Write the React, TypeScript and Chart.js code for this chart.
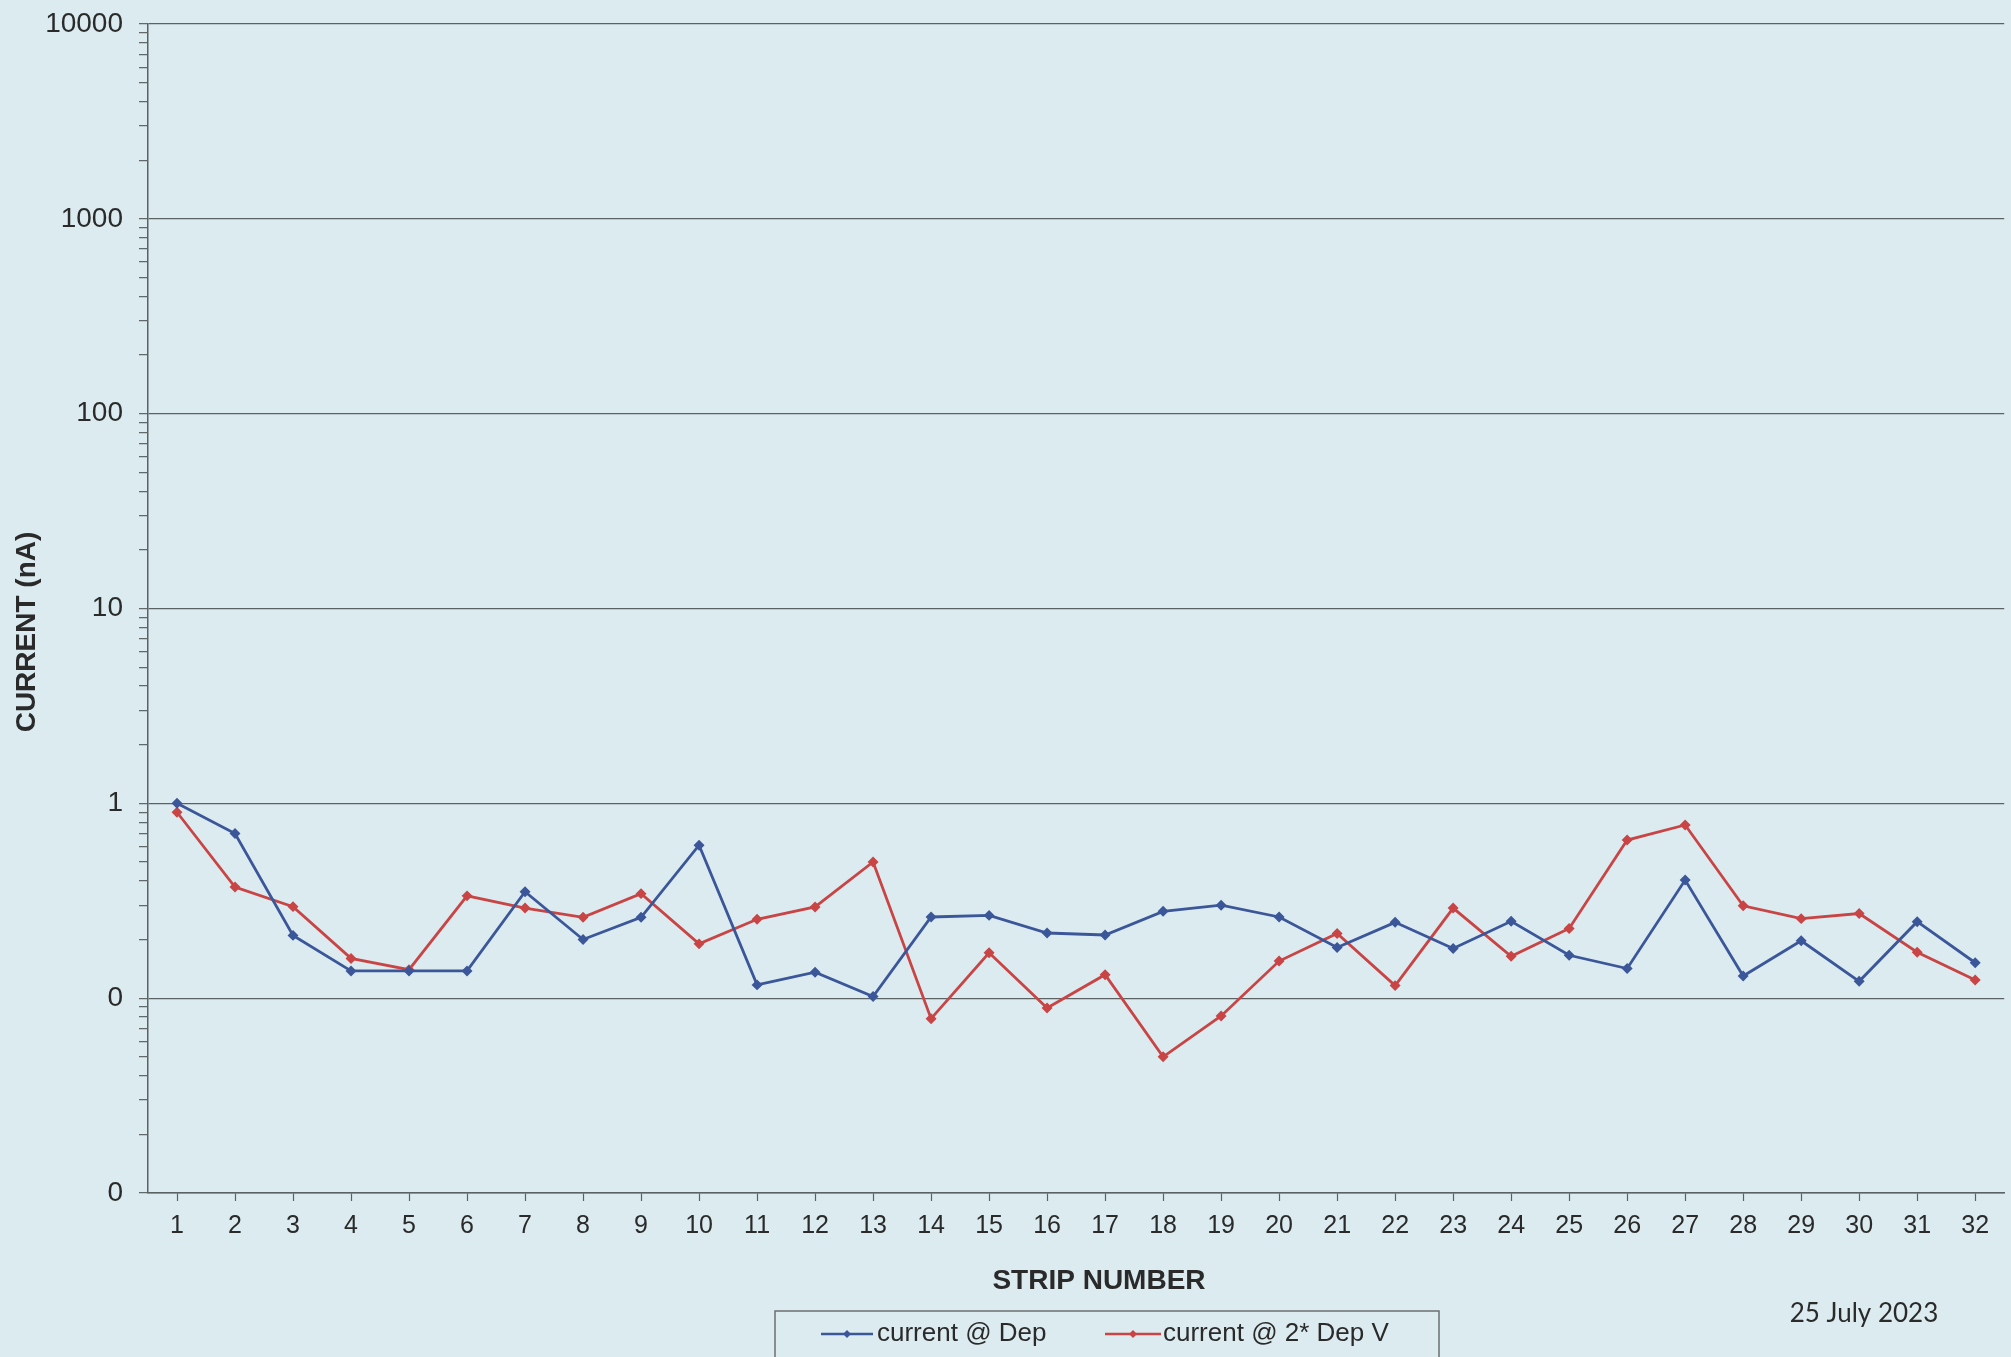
import React, { useEffect, useRef } from "react";
import { Chart, registerables } from "chart.js";

Chart.register(...registerables);

// ---- Data ----
const strips = ["1","2","3","4","5","6","7","8","9","10","11","12","13","14","15","16","17","18","19","20","21","22","23","24","25","26","27","28","29","30","31","32"];

const currentAtDep = [
  1.0, 0.70, 0.21, 0.138, 0.138, 0.138, 0.352, 0.20, 0.26, 0.61,
  0.117, 0.136, 0.102, 0.261, 0.266, 0.216, 0.211, 0.279, 0.30, 0.261,
  0.182, 0.245, 0.18, 0.248, 0.166, 0.142, 0.404, 0.130, 0.197, 0.122,
  0.247, 0.152,
];

const currentAt2xDep = [
  0.90, 0.372, 0.295, 0.16, 0.14, 0.335, 0.29, 0.26, 0.344, 0.19,
  0.254, 0.294, 0.50, 0.0785, 0.171, 0.089, 0.132, 0.050, 0.081, 0.155,
  0.215, 0.116, 0.29, 0.164, 0.228, 0.648, 0.774, 0.298, 0.256, 0.272,
  0.172, 0.124,
];

const seriesLabels = ["current @ Dep", "current @ 2* Dep V"];
const seriesColors = ["#3b5799", "#c94545"];

const yMajorTicks = [0.01, 0.1, 1, 10, 100, 1000, 10000];
const yTickLabels = ["0", "0", "1", "10", "100", "1000", "10000"];
const yMinorMultipliers = [2, 3, 4, 5, 6, 7, 8, 9];

const yTitle = "CURRENT (nA)";
const xTitle = "STRIP NUMBER";
const dateText = "25 July 2023";

// ---- Styling ----
const W = 2011;
const H = 1357;
const PAPER = "#dbebf0";
const GRID = "#5b6264";
const TEXT = "#2a2a2a";
const FONT = "'Liberation Sans', Arial, sans-serif";

const isMajor = (v: number) => yMajorTicks.some((m) => Math.abs(m - v) / m < 1e-6);

const decorPlugin = {
  id: "decor",
  beforeDraw(chart: any) {
    const ctx = chart.ctx;
    ctx.save();
    ctx.fillStyle = PAPER;
    ctx.fillRect(0, 0, chart.width, chart.height);
    ctx.restore();
  },
  afterDraw(chart: any) {
    const ctx = chart.ctx;
    ctx.save();
    ctx.fillStyle = TEXT;
    // y title
    ctx.font = `bold 28px ${FONT}`;
    ctx.textAlign = "center";
    ctx.textBaseline = "middle";
    ctx.save();
    ctx.translate(27, 632);
    ctx.rotate(-Math.PI / 2);
    ctx.fillText(yTitle, 0, 0);
    ctx.restore();
    // x title
    ctx.fillText(xTitle, 1099, 1281);
    // date
    ctx.font = `26px Lato, 'Open Sans', sans-serif`;
    ctx.fillText(dateText, 1864, 1314);

    // legend box
    ctx.strokeStyle = "#6d6f70";
    ctx.lineWidth = 1.5;
    ctx.strokeRect(775, 1311, 664, 60);
    const items = [
      { x0: 821, x1: 873, tx: 877 },
      { x0: 1105, x1: 1161, tx: 1163 },
    ];
    const ly = 1334;
    chart.data.datasets.forEach((ds: any, i: number) => {
      const it = items[i];
      ctx.strokeStyle = ds.borderColor;
      ctx.lineWidth = 2.5;
      ctx.beginPath();
      ctx.moveTo(it.x0, ly);
      ctx.lineTo(it.x1, ly);
      ctx.stroke();
      const cx = (it.x0 + it.x1) / 2;
      ctx.fillStyle = ds.borderColor;
      ctx.beginPath();
      ctx.moveTo(cx, ly - 4);
      ctx.lineTo(cx + 4, ly);
      ctx.lineTo(cx, ly + 4);
      ctx.lineTo(cx - 4, ly);
      ctx.closePath();
      ctx.fill();
      ctx.fillStyle = TEXT;
      ctx.font = `26px ${FONT}`;
      ctx.textAlign = "left";
      ctx.textBaseline = "middle";
      ctx.fillText(ds.label, it.tx, ly);
    });
    ctx.restore();
  },
};

export default function App() {
  const ref = useRef<HTMLCanvasElement | null>(null);

  useEffect(() => {
    document.body.style.margin = "0";
    document.body.style.overflow = "hidden";
    document.body.style.background = PAPER;
    const canvas = ref.current;
    if (!canvas) return;
    Chart.defaults.font.family = FONT;

    const chart = new Chart(canvas, {
      type: "line",
      data: {
        labels: strips,
        datasets: [
          {
            label: seriesLabels[0],
            data: currentAtDep,
            borderColor: seriesColors[0],
            backgroundColor: seriesColors[0],
            pointBackgroundColor: seriesColors[0],
            pointBorderColor: seriesColors[0],
            borderWidth: 2.8,
            pointStyle: "rectRot",
            pointRadius: 3.5,
            tension: 0,
          },
          {
            label: seriesLabels[1],
            data: currentAt2xDep,
            borderColor: seriesColors[1],
            backgroundColor: seriesColors[1],
            pointBackgroundColor: seriesColors[1],
            pointBorderColor: seriesColors[1],
            borderWidth: 2.8,
            pointStyle: "rectRot",
            pointRadius: 3.5,
            tension: 0,
          },
        ],
      },
      options: {
        responsive: false,
        animation: false,
        devicePixelRatio: 1,
        layout: { padding: { left: 0, right: 1, top: 24, bottom: 0 } },
        plugins: {
          legend: { display: false },
          tooltip: { enabled: false },
          title: { display: false },
        },
        scales: {
          x: {
            type: "category",
            offset: true,
            grid: {
              drawOnChartArea: false,
              drawTicks: true,
              tickLength: 8,
              tickColor: GRID,
              tickWidth: 1.2,
              offset: false,
            },
            border: { display: true, color: GRID, width: 1.5 },
            ticks: {
              color: TEXT,
              font: { size: 25, family: FONT },
              padding: 10,
              autoSkip: false,
              maxRotation: 0,
            },
            afterFit: (scale: any) => {
              scale.height = H - 1193;
              scale.paddingLeft = 0;
              scale.paddingRight = 0;
            },
          },
          y: {
            type: "logarithmic",
            min: 0.01,
            max: 10000,
            grid: {
              color: (c: any) => (c.tick && isMajor(c.tick.value) ? GRID : "rgba(0,0,0,0)"),
              lineWidth: 1.3,
              drawTicks: true,
              tickLength: 9,
              tickColor: GRID,
              tickWidth: 1.2,
            },
            border: { display: true, color: GRID, width: 1.5 },
            ticks: {
              color: TEXT,
              font: { size: 28, family: FONT },
              padding: 16,
              autoSkip: false,
              callback: (value: any) => {
                const v = Number(value);
                const i = yMajorTicks.findIndex((m) => Math.abs(m - v) / m < 1e-6);
                return i >= 0 ? yTickLabels[i] : "";
              },
            },
            afterBuildTicks: (scale: any) => {
              const t: any[] = [];
              for (let k = 0; k < yMajorTicks.length; k++) {
                const m = yMajorTicks[k];
                t.push({ value: m, major: true });
                if (k < yMajorTicks.length - 1) {
                  yMinorMultipliers.forEach((mul) => t.push({ value: m * mul, major: false }));
                }
              }
              scale.ticks = t;
            },
            afterFit: (scale: any) => {
              scale.width = 148;
              scale.paddingTop = 0;
              scale.paddingBottom = 0;
            },
          },
        },
      },
      plugins: [decorPlugin],
    } as any);

    return () => chart.destroy();
  }, []);

  return (
    <div style={{ width: W, height: H, background: PAPER }}>
      <canvas ref={ref} width={W} height={H} style={{ display: "block", width: W, height: H }} />
    </div>
  );
}
